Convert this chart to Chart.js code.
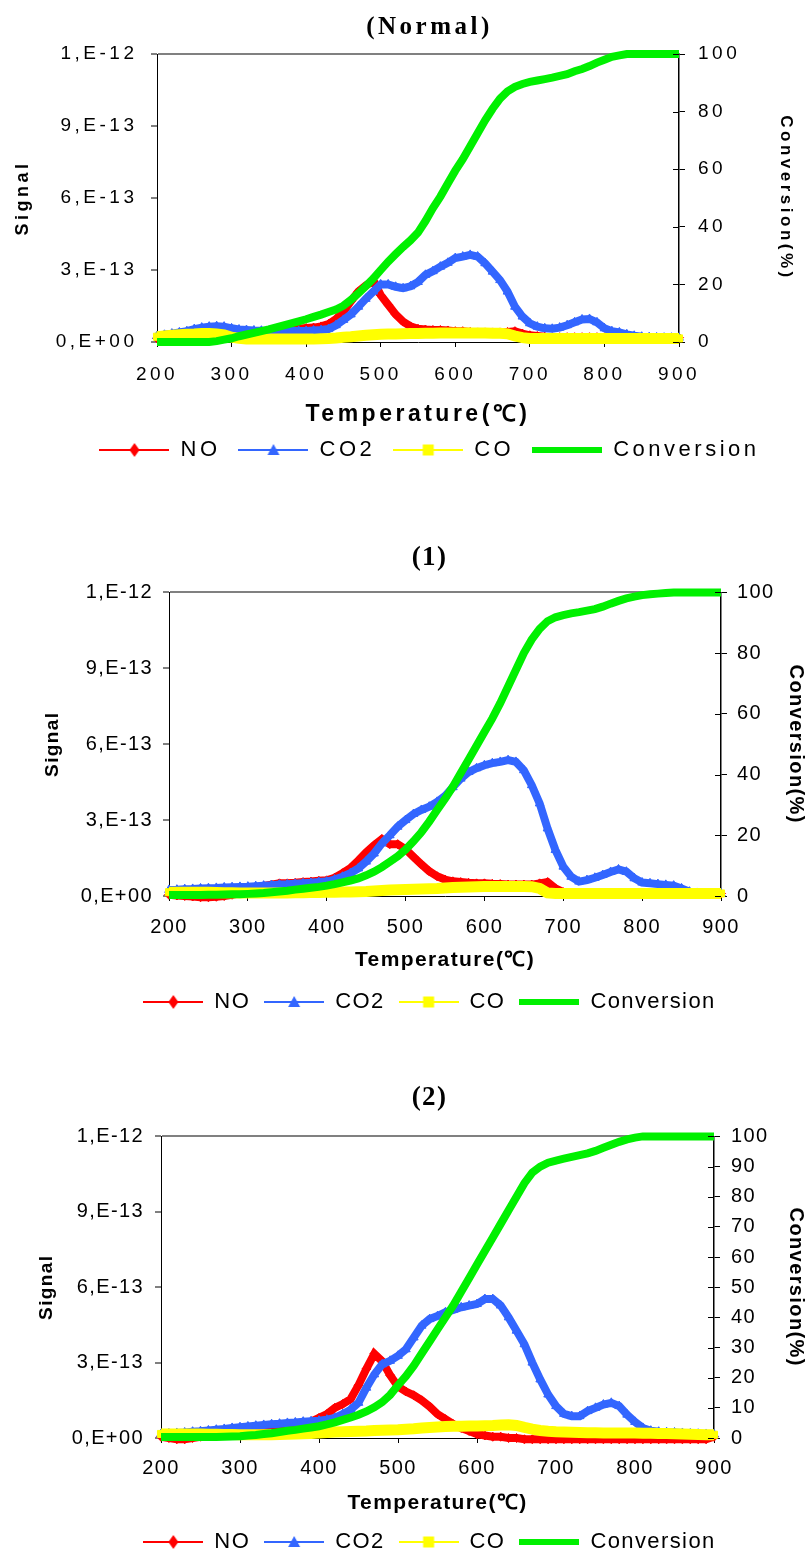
<!DOCTYPE html>
<html>
<head>
<meta charset="utf-8">
<script src="https://cdn.jsdelivr.net/npm/chart.js@4.4.1/dist/chart.umd.min.js"></script>
<style>
  html, body { margin: 0; padding: 0; background: #fff; overflow: hidden; width: 809px; height: 1556px; }
  .box { position: absolute; left: 0; width: 809px; }
  canvas { display: block; }
</style>
</head>
<body>
<div class="box" style="top:0px"><canvas id="c0" width="809" height="471"></canvas></div>
<div class="box" style="top:530px"><canvas id="c1" width="809" height="493"></canvas></div>
<div class="box" style="top:1070px"><canvas id="c2" width="809" height="493"></canvas></div>
<script>
// temperature steps (°C)
const temps = [200,210,220,230,240,250,260,270,280,290,
  300,310,320,330,340,350,360,370,380,390,
  400,410,420,430,440,450,460,470,480,490,
  500,510,520,530,540,550,560,570,580,590,
  600,610,620,630,640,650,660,670,680,690,
  700,710,720,730,740,750,760,770,780,790,
  800,810,820,830,840,850,860,870,880,890,
  900];

// signal values are read in units of 1E-13, conversion in %
const SIGNAL_UNIT = 1e-13;
const SIGNAL_MAX = 1.2e-12;
const signalTicks = [0, 3e-13, 6e-13, 9e-13, 1.2e-12];
const signalLabels = ['0,E+00', '3,E-13', '6,E-13', '9,E-13', '1,E-12'];

// (Normal)
const normalNO = [0.15,0.15,0.15,0.15,0.15,0.12,0.10,0.15,0.20,0.20,
  0.25,0.30,0.30,0.35,0.40,0.42,0.45,0.50,0.52,0.55,
  0.58,0.60,0.65,0.75,0.95,1.25,1.70,2.10,2.35,2.55,
  1.95,1.55,1.15,0.85,0.65,0.55,0.52,0.50,0.50,0.48,
  0.45,0.45,0.42,0.40,0.40,0.40,0.40,0.42,0.45,0.35,
  0.28,0.25,0.22,0.20,0.20,0.20,0.20,0.20,0.20,0.20,
  0.20,0.20,0.20,0.18,0.18,0.18,0.18,0.18,0.18,0.18,
  0.18];
const normalCO2 = [0.25,0.30,0.35,0.40,0.45,0.54,0.60,0.64,0.66,0.64,
  0.57,0.52,0.50,0.48,0.47,0.46,0.46,0.46,0.46,0.46,
  0.46,0.48,0.50,0.54,0.70,0.92,1.15,1.47,1.80,2.10,
  2.40,2.40,2.30,2.24,2.32,2.50,2.80,2.95,3.14,3.30,
  3.50,3.56,3.63,3.56,3.28,2.93,2.58,2.10,1.47,1.06,
  0.78,0.64,0.57,0.55,0.60,0.70,0.82,0.94,0.96,0.82,
  0.57,0.45,0.40,0.32,0.26,0.22,0.20,0.19,0.18,0.18,
  0.18];
const normalCO = [0.22,0.25,0.28,0.30,0.32,0.33,0.35,0.35,0.33,0.30,
  0.20,0.15,0.12,0.12,0.12,0.12,0.12,0.12,0.12,0.12,
  0.12,0.12,0.14,0.15,0.17,0.20,0.22,0.25,0.28,0.30,
  0.32,0.33,0.33,0.34,0.35,0.35,0.36,0.36,0.37,0.37,
  0.38,0.38,0.38,0.37,0.37,0.36,0.36,0.34,0.25,0.18,
  0.15,0.15,0.15,0.15,0.15,0.15,0.15,0.15,0.15,0.15,
  0.15,0.15,0.15,0.15,0.15,0.15,0.15,0.15,0.15,0.15,
  0.15];
const normalConv = [0,0,0,0,0,0,0,0,0.3,0.8,
  1.3,2.0,2.6,3.2,3.8,4.4,5.1,5.8,6.5,7.2,
  7.9,8.7,9.5,10.4,11.3,12.6,14.6,16.9,19.4,22.0,
  25.0,27.9,30.5,33.0,35.3,38.0,42.0,46.5,50.5,55.0,
  59.5,63.5,68.0,72.5,77.0,81.0,84.5,87.0,88.6,89.6,
  90.3,90.8,91.3,91.8,92.4,93.0,94.0,94.8,95.8,97.0,
  98.0,99.0,99.5,100,100,100,100,100,100,100,
  100];

// (1)
const oneNO = [0.05,0.02,0.00,-0.02,-0.05,-0.05,-0.03,0.00,0.05,0.10,
  0.20,0.30,0.40,0.45,0.50,0.50,0.52,0.55,0.57,0.60,
  0.62,0.72,0.90,1.10,1.40,1.72,2.00,2.25,2.05,2.05,
  1.85,1.55,1.25,0.98,0.78,0.65,0.58,0.55,0.52,0.50,
  0.50,0.48,0.47,0.45,0.45,0.45,0.45,0.50,0.55,0.30,
  0.15,0.10,0.10,0.10,0.10,0.10,0.10,0.10,0.10,0.10,
  0.10,0.10,0.10,0.10,0.10,0.10,0.10,0.10,0.10,0.10,
  0.10];
const oneCO2 = [0.24,0.25,0.27,0.28,0.30,0.31,0.32,0.34,0.35,0.36,
  0.37,0.39,0.41,0.43,0.45,0.46,0.48,0.50,0.52,0.55,
  0.57,0.65,0.76,0.90,1.09,1.36,1.68,2.08,2.40,2.74,
  3.00,3.24,3.40,3.53,3.72,3.95,4.30,4.64,4.90,5.05,
  5.17,5.25,5.30,5.37,5.30,4.97,4.38,3.66,2.67,1.82,
  1.16,0.76,0.57,0.63,0.72,0.83,0.95,1.05,0.96,0.70,
  0.53,0.50,0.47,0.44,0.41,0.30,0.17,0.12,0.10,0.10,
  0.10];
const oneCO = [0.15,0.15,0.15,0.15,0.15,0.15,0.14,0.13,0.13,0.12,
  0.12,0.12,0.12,0.12,0.12,0.12,0.13,0.13,0.14,0.14,
  0.15,0.15,0.16,0.16,0.17,0.18,0.20,0.22,0.24,0.25,
  0.26,0.27,0.28,0.29,0.30,0.32,0.34,0.35,0.36,0.37,
  0.38,0.38,0.38,0.38,0.38,0.38,0.37,0.30,0.12,0.10,
  0.10,0.10,0.10,0.10,0.10,0.10,0.10,0.10,0.10,0.10,
  0.10,0.10,0.10,0.10,0.10,0.10,0.10,0.10,0.10,0.10,
  0.10];
const oneConv = [0.3,0.3,0.3,0.3,0.35,0.4,0.45,0.5,0.55,0.6,
  0.7,0.85,1.0,1.25,1.5,1.75,2.1,2.4,2.7,3.0,
  3.4,3.9,4.5,5.1,5.8,6.8,8.0,9.5,11.3,13.1,
  15.3,18.0,21.0,24.5,28.3,32.0,36.0,40.5,45.0,49.5,
  54.0,58.5,63.5,69.0,74.5,80.0,84.5,88.0,90.5,91.8,
  92.5,93.1,93.5,94.0,94.5,95.3,96.3,97.2,98.0,98.6,
  99.1,99.4,99.6,99.8,100,100,100,100,100,100,
  100];

// (2)
const twoNO = [0.05,0.00,-0.05,-0.05,0.00,0.05,0.10,0.15,0.20,0.25,
  0.30,0.35,0.40,0.45,0.50,0.52,0.55,0.58,0.60,0.65,
  0.80,0.95,1.20,1.35,1.55,2.10,2.75,3.35,3.05,2.50,
  2.05,1.85,1.70,1.50,1.25,0.95,0.75,0.55,0.40,0.28,
  0.15,0.10,0.05,0.05,0.00,0.00,-0.05,-0.05,-0.05,-0.05,
  -0.05,-0.05,-0.05,-0.05,-0.05,-0.05,-0.05,-0.05,-0.05,-0.05,
  -0.05,-0.05,-0.05,-0.05,-0.05,-0.05,-0.05,-0.05,-0.05,-0.05,
  0.05];
const twoCO2 = [0.16,0.18,0.20,0.22,0.25,0.27,0.30,0.33,0.36,0.40,
  0.43,0.46,0.49,0.52,0.55,0.57,0.60,0.62,0.65,0.67,
  0.69,0.73,0.80,0.95,1.13,1.40,2.00,2.53,2.93,3.07,
  3.27,3.53,4.00,4.47,4.73,4.85,5.00,5.10,5.20,5.27,
  5.33,5.53,5.53,5.27,4.80,4.27,3.73,3.00,2.33,1.73,
  1.27,0.96,0.87,0.87,1.07,1.20,1.33,1.40,1.27,0.93,
  0.64,0.40,0.29,0.25,0.23,0.22,0.20,0.18,0.17,0.16,
  0.15];
const twoCO = [0.16,0.16,0.16,0.16,0.16,0.16,0.15,0.15,0.14,0.14,
  0.13,0.13,0.13,0.13,0.13,0.14,0.15,0.16,0.17,0.18,
  0.20,0.22,0.24,0.25,0.26,0.27,0.28,0.30,0.31,0.32,
  0.33,0.35,0.37,0.40,0.42,0.44,0.46,0.47,0.47,0.48,
  0.48,0.49,0.50,0.52,0.53,0.50,0.42,0.35,0.30,0.27,
  0.25,0.24,0.23,0.22,0.21,0.21,0.20,0.20,0.20,0.20,
  0.20,0.19,0.19,0.18,0.18,0.17,0.16,0.15,0.14,0.13,
  0.13];
const twoConv = [0.3,0.3,0.3,0.3,0.3,0.3,0.32,0.35,0.4,0.5,
  0.6,0.8,1.0,1.3,1.6,2.0,2.4,2.7,3.1,3.5,
  3.9,4.5,5.2,6.0,6.8,7.7,8.8,10.2,11.9,14.3,
  17.5,20.5,24.0,28.0,32.0,36.0,40.0,44.0,48.5,53.0,
  57.5,62.0,66.5,71.0,75.5,80.0,84.5,88.0,90.0,91.3,
  92.0,92.6,93.2,93.8,94.4,95.2,96.2,97.2,98.2,99.0,
  99.6,100,100,100,100,100,100,100,100,100,
  100];

Chart.defaults.color = '#000';
Chart.defaults.font.family = "'Liberation Sans', Arial, sans-serif";

const RED = '#FF0000', BLUE = '#3366FF', YELLOW = '#FFFF00', GREEN = '#00F000';

// legend sample: line with marker in the middle, like the spreadsheet legend
function icon(color, marker, lw, w) {
  const cv = document.createElement('canvas');
  cv.width = w; cv.height = 16;
  const c = cv.getContext('2d');
  c.strokeStyle = color; c.lineWidth = lw;
  c.beginPath(); c.moveTo(0, 8); c.lineTo(w, 8); c.stroke();
  c.fillStyle = color;
  const m = w / 2;
  c.beginPath();
  if (marker === 'diamond') { c.moveTo(m, 1); c.lineTo(m + 5, 8); c.lineTo(m, 15); c.lineTo(m - 5, 8); }
  else if (marker === 'triangle') { c.moveTo(m, 2); c.lineTo(m + 6, 13); c.lineTo(m - 6, 13); }
  else if (marker === 'square') { c.rect(m - 5.5, 2.5, 11, 11); }
  c.closePath(); c.fill();
  return cv;
}

function spacing(px) {
  return {
    id: 'spacing',
    beforeUpdate(ch) { ch.ctx.letterSpacing = px + 'px'; },
    beforeDraw(ch) { ch.ctx.letterSpacing = px + 'px'; }
  };
}

// small tick marks on the inner side of the conversion axis
const innerTicks = {
  id: 'innerTicks',
  afterDatasetsDraw(ch) {
    const s = ch.scales.y1, c = ch.ctx;
    c.save();
    c.strokeStyle = '#000'; c.lineWidth = 1;
    s.ticks.forEach(t => {
      const y = Math.round(s.getPixelForValue(t.value)) + 0.5;
      c.beginPath(); c.moveTo(s.left - 6, y); c.lineTo(s.left, y); c.stroke();
    });
    c.restore();
  }
};

const PAD_LEFT = 50;

function makeChart(id, title, L, d) {
  const pts = (vals, k) => temps.map((t, i) => ({ x: t, y: vals[i] * k }));
  const icons = [
    icon(RED, 'diamond', 2, L.legendBox),
    icon(BLUE, 'triangle', 2, L.legendBox),
    icon(YELLOW, 'square', 2, L.legendBox),
    icon(GREEN, null, 6, L.legendBox)
  ];
  const tickFont = { size: L.tickSize };

  new Chart(document.getElementById(id), {
    type: 'line',
    data: {
      datasets: [
        { label: 'NO', data: pts(d.no, SIGNAL_UNIT), borderColor: RED, backgroundColor: RED,
          pointStyle: 'rectRot', pointRadius: 4.5, pointBorderWidth: 1, borderWidth: 8, yAxisID: 'y', order: 4 },
        { label: 'CO2', data: pts(d.co2, SIGNAL_UNIT), borderColor: BLUE, backgroundColor: BLUE,
          pointStyle: 'triangle', pointRadius: 5, pointBorderWidth: 1, borderWidth: 8, yAxisID: 'y', order: 3 },
        { label: 'CO', data: pts(d.co, SIGNAL_UNIT), borderColor: YELLOW, backgroundColor: YELLOW,
          pointStyle: 'rect', pointRadius: 5, pointBorderWidth: 1, borderWidth: 11, yAxisID: 'y', order: 2 },
        { label: 'Conversion', data: pts(d.conv, 1), borderColor: GREEN, backgroundColor: GREEN,
          pointRadius: 0, borderWidth: 8, yAxisID: 'y1', order: 1 }
      ]
    },
    options: {
      responsive: false,
      animation: false,
      devicePixelRatio: 1,
      events: [],
      clip: 7,
      layout: { padding: { left: PAD_LEFT, right: 0, top: 0, bottom: 0 } },
      plugins: {
        tooltip: { enabled: false },
        title: {
          display: true, text: title,
          font: { family: "'Liberation Serif', 'Times New Roman', serif", size: L.titleSize, weight: 'bold' },
          padding: { top: L.titleTop, bottom: L.titleBottom }
        },
        legend: {
          position: 'bottom',
          labels: {
            usePointStyle: true,
            pointStyleWidth: L.legendBox,
            padding: L.legendPad,
            font: { size: L.legendSize },
            generateLabels: ch => ch.data.datasets.map((ds, i) => ({
              text: ds.label, pointStyle: icons[i], datasetIndex: i, hidden: false,
              lineWidth: 0, fillStyle: 'rgba(0,0,0,0)', strokeStyle: 'rgba(0,0,0,0)', fontColor: '#000'
            }))
          }
        }
      },
      scales: {
        x: {
          type: 'linear', min: 200, max: 900,
          afterFit: s => { s.height = L.xHeight; },
          ticks: { stepSize: 100, font: tickFont, padding: L.xTickPad, autoSkip: false, maxRotation: 0 },
          grid: { drawOnChartArea: false, tickLength: 5, tickColor: '#000' },
          border: { color: '#000', width: 1 },
          title: { display: true, text: 'Temperature(℃)', font: { size: L.xTitleSize, weight: 'bold' },
                   padding: { top: 0, bottom: L.xTitlePad } }
        },
        y: {
          position: 'left', min: 0, max: SIGNAL_MAX,
          afterBuildTicks: s => { s.ticks = signalTicks.map(v => ({ value: v })); },
          afterFit: s => { s.width = L.left - PAD_LEFT; },
          ticks: { callback: (v, i) => signalLabels[i], font: tickFont, padding: L.yTickPad, autoSkip: false },
          grid: {
            color: c => (c.tick && c.tick.value === SIGNAL_MAX) ? '#808080' : 'rgba(0,0,0,0)',
            lineWidth: 2, tickColor: '#000', tickWidth: 1, tickLength: 6
          },
          border: { color: '#000', width: 1 },
          title: { display: true, text: 'Signal', font: { size: L.sigSize, weight: 'bold' },
                   padding: { top: L.sigPad, bottom: 0 } }
        },
        y1: {
          position: 'right', min: 0, max: 100,
          afterFit: s => { s.width = 809 - L.right; },
          ticks: { stepSize: L.convStep, font: tickFont, padding: L.y1TickPad, autoSkip: false },
          grid: { drawOnChartArea: false, tickLength: 6, tickColor: '#000' },
          border: { color: '#000', width: 1.5 },
          title: { display: true, text: 'Conversion(%)', font: { size: L.convSize, weight: 'bold' },
                   padding: { top: L.convPad, bottom: 0 } }
        }
      }
    },
    plugins: [spacing(L.spacing), innerTicks]
  });
}

makeChart('c0', '(Normal)', {
  left: 157, right: 679, titleSize: 25, titleTop: 13, titleBottom: 11, spacing: 3.5,
  tickSize: 19, yTickPad: 13.5, y1TickPad: 13, xTickPad: 16.6,
  sigSize: 18, sigPad: -37.8, convSize: 17, convPad: 12.8,
  xTitleSize: 23, xTitlePad: -7.8, xHeight: 79,
  legendSize: 22, legendPad: 18, legendBox: 70, convStep: 20
}, { no: normalNO, co2: normalCO2, co: normalCO, conv: normalConv });

makeChart('c1', '(1)', {
  left: 169, right: 721, titleSize: 27, titleTop: 12, titleBottom: 18, spacing: 1.4,
  tickSize: 20, yTickPad: 10, y1TickPad: 10, xTickPad: 14,
  sigSize: 19, sigPad: -8.4, convSize: 20, convPad: 1,
  xTitleSize: 21, xTitlePad: 4.4, xHeight: 81,
  legendSize: 22, legendPad: 14, legendBox: 60, convStep: 20
}, { no: oneNO, co2: oneCO2, co: oneCO, conv: oneConv });

makeChart('c2', '(2)', {
  left: 161, right: 714, titleSize: 27, titleTop: 12, titleBottom: 22, spacing: 1.4,
  tickSize: 20, yTickPad: 11, y1TickPad: 11, xTickPad: 13,
  sigSize: 19, sigPad: -14.9, convSize: 20, convPad: 1,
  xTitleSize: 21, xTitlePad: 1.4, xHeight: 79,
  legendSize: 22, legendPad: 14, legendBox: 60, convStep: 10
}, { no: twoNO, co2: twoCO2, co: twoCO, conv: twoConv });
</script>
</body>
</html>
